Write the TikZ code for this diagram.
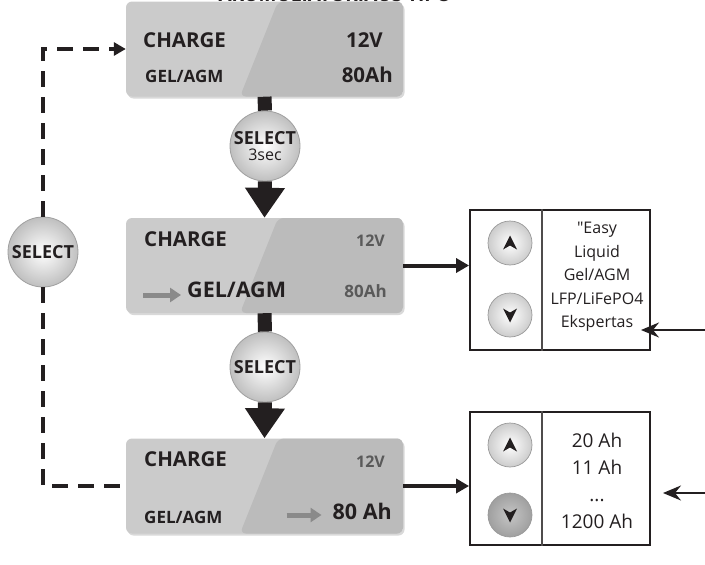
\documentclass[tikz,border=0pt]{standalone}
\usepackage{fontspec}
\setmainfont{Open Sans}
\usetikzlibrary{arrows.meta,%
                shadows}
\definecolor{ink}{HTML}{231F20}
\definecolor{dimtxt}{HTML}{5A5A5A}
\definecolor{dimarr}{HTML}{8A8A8A}
\definecolor{panelA}{HTML}{CBCBCB}
\definecolor{panelB}{HTML}{BBBBBB}
\newcommand{\fsz}[1]{\fontsize{#1}{#1}\selectfont}

\tikzset{
	panel/.style = {rounded corners=6pt,minimum width=277pt,minimum height=95pt,inner sep=0pt,fill=panelA,
		drop shadow={shadow xshift=1.5pt,shadow yshift=-2pt,opacity=.3},
		path picture={\fill[panelB] ([xshift=152pt]path picture bounding box.north west) -- (path picture bounding box.north east)
			-- (path picture bounding box.south east) -- ([xshift=114pt]path picture bounding box.south west) -- cycle;}},
	big/.style = {inner sep=0pt,text=ink,font=\bfseries\fsz{20.5}},
	mid/.style = {inner sep=0pt,text=ink,font=\bfseries\fsz{17}},
	dim/.style = {inner sep=0pt,text=dimtxt,font=\bfseries\fsz{16}},
	selbtn/.style = {circle,minimum size=70pt,inner sep=0pt,draw=gray!75,line width=.8pt,
		inner color=white,outer color=gray!50,text=ink,font=\bfseries\fsz{18},align=center},
	key/.style = {circle,minimum size=44pt,inner sep=0pt,draw=gray!80,line width=.7pt,inner color=white,outer color=gray!40},
	keyup/.style = {key,path picture={\fill[ink] ([yshift=7.5pt]path picture bounding box.center)
		-- ++(7pt,-14pt) -- ++(-7pt,4pt) -- ++(-7pt,-4pt) -- cycle;}},
	keydown/.style = {key,path picture={\fill[ink] ([yshift=-7.5pt]path picture bounding box.center)
		-- ++(7pt,14pt) -- ++(-7pt,-4pt) -- ++(-7pt,4pt) -- cycle;}},
	listbox/.style = {draw=ink,line width=1.8pt,inner sep=0pt,minimum width=180pt},
	listtxt/.style = {inner sep=0pt,align=center,text=ink},
	stem/.style = {line width=14pt,ink},
	flowline/.style = {line width=4pt,ink,-{Triangle[length=13pt,width=14pt]}},
	inarrow/.style = {line width=2pt,ink,-{Stealth[length=18pt,width=15pt,inset=6pt]}},
	dashlink/.style = {line width=4.5pt,ink,dash pattern=on 16pt off 10pt},
	dimarrow/.style = {line width=5pt,dimarr,-{Triangle[length=11pt,width=14pt]}}
}

\begin{document}
\begin{tikzpicture}[x=1pt,y=-1pt]
	\useasboundingbox (0,0) rectangle (705,565);
	\node[inner sep=0pt,text=ink,font=\bfseries\fsz{19},anchor=base] (title) at (335,1.5) {AKUMULIATORIAUS TIPO};
	% display panels
	\node[panel] (panel1) at (264.5,49) {};
	\node[panel] (panel2) at (264.5,265.5) {};
	\node[panel] (panel3) at (264.5,486) {};
	\node[big,anchor=base west] (c1) at (143,47) {CHARGE};
	\node[big,anchor=base east] (v1) at (383,47) {12V};
	\node[mid,anchor=base west] (t1) at (145,82) {GEL/AGM};
	\node[big,anchor=base east] (a1) at (393,82) {80Ah};
	\node[big,anchor=base west] (c2) at (144,246) {CHARGE};
	\node[dim,anchor=base east] (v2) at (385,246) {12V};
	\node[big,anchor=base west,font=\bfseries\fsz{21.5}] (t2) at (187,297) {GEL/AGM};
	\node[dim,anchor=base east,font=\bfseries\fsz{17}] (a2) at (387,297) {80Ah};
	\node[big,anchor=base west] (c3) at (144,466) {CHARGE};
	\node[dim,anchor=base east] (v3) at (385,467) {12V};
	\node[mid,anchor=base west] (t3) at (144,523) {GEL/AGM};
	\node[big,anchor=base east,font=\bfseries\fsz{21.5}] (a3) at (392,519) {80 Ah};
	\draw[dimarrow] ([xshift=-44pt,yshift=2pt]t2.base west) -- ([xshift=-6pt,yshift=2pt]t2.base west);
	\draw[dimarrow] ([xshift=-46pt,yshift=4pt]a3.base west) -- ([xshift=-11pt,yshift=4pt]a3.base west);
	% select buttons
	\node[selbtn] (sel1) at (265,146) {SELECT\\[-2pt]{\mdseries\fontsize{16}{16}\selectfont 3sec}};
	\node[selbtn] (sel2) at (265,367) {SELECT};
	\node[selbtn] (selL) at (43,252) {SELECT};
	\draw[stem] (panel1.south) -- (sel1.north);
	\draw[stem,-{Triangle[length=30pt,width=38pt]}] (sel1.south) -- (panel2.north);
	\draw[stem] (panel2.south) -- (sel2.north);
	\draw[stem,-{Triangle[length=30pt,width=38pt]}] (sel2.south) -- (panel3.north);
	\draw[dashlink,-{Triangle[length=12pt,width=13pt]}] (selL.north) |- (panel1.west);
	\draw[dashlink] (selL.south) |- (panel3.west);
	% choice lists
	\node[listbox,minimum height=140pt] (boxA) at (560,280) {};
	\node[listbox,minimum height=133pt] (boxB) at (560,478.5) {};
	\draw[ink!80,line width=1.3pt] ([xshift=73pt]boxA.north west) -- ([xshift=73pt]boxA.south west);
	\draw[ink!80,line width=1.3pt] ([xshift=73pt]boxB.north west) -- ([xshift=73pt]boxB.south west);
	\node[keyup] (upA) at (510,243) {};
	\node[keydown] (downA) at (510,315) {};
	\node[keyup] (upB) at (510,445) {};
	\node[keydown,inner color=gray!45,outer color=gray!75] (downB) at (510,515) {};
	\node[listtxt,font=\fontsize{16}{23.5}\selectfont] (listA) at (597,277) {\textquotedbl Easy\\Liquid\\Gel/AGM\\LFP/LiFePO4\\Ekspertas};
	\node[listtxt,font=\fontsize{19}{27}\selectfont] (listB) at (597,480.5) {20 Ah\\11 Ah\\...\\1200 Ah};
	\draw[flowline] (panel2.east) -- (panel2.east -| boxA.west);
	\draw[flowline] (panel3.east) -- (panel3.east -| boxB.west);
	\coordinate (inA) at (705,330);
	\coordinate (tipA) at (641,330);
	\coordinate (inB) at (705,493);
	\coordinate (tipB) at (663,493);
	\draw[inarrow] (inA) -- (tipA);
	\draw[inarrow] (inB) -- (tipB);
\end{tikzpicture}
\end{document}
